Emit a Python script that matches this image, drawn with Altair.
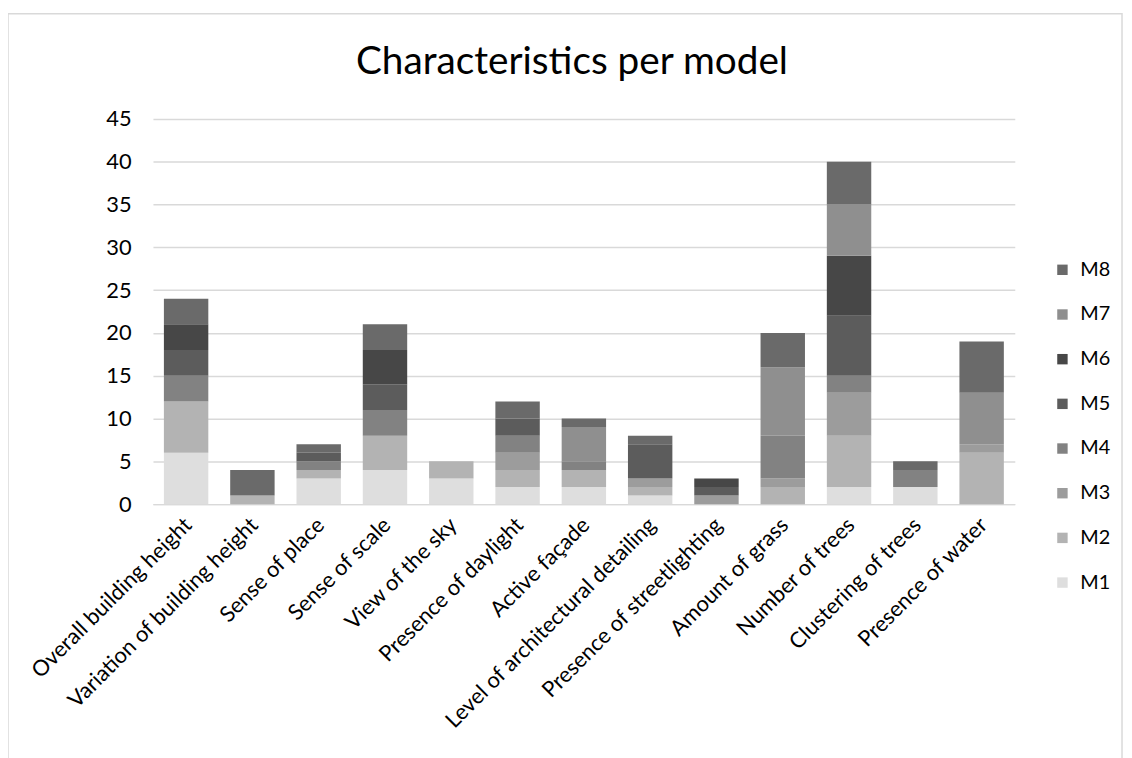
import altair as alt
import pandas as pd

categories = [
    "Overall building height", "Variation of building height", "Sense of place",
    "Sense of scale", "View of the sky", "Presence of daylight", "Active façade",
    "Level of architectural detailing", "Presence of streetlighting",
    "Amount of grass", "Number of trees", "Clustering of trees", "Presence of water",
]
models = ["M1", "M2", "M3", "M4", "M5", "M6", "M7", "M8"]

M1 = [6, 0, 3, 4, 3, 2, 2, 1, 0, 0, 2, 2, 0]
M2 = [6, 1, 1, 4, 2, 2, 2, 1, 0, 2, 6, 0, 6]
M3 = [0, 0, 0, 0, 0, 2, 0, 1, 1, 1, 5, 0, 1]
M4 = [3, 0, 1, 3, 0, 2, 1, 0, 0, 5, 2, 2, 0]
M5 = [3, 0, 1, 3, 0, 2, 0, 4, 1, 0, 7, 0, 0]
M6 = [3, 0, 0, 4, 0, 0, 0, 0, 1, 0, 7, 0, 0]
M7 = [0, 0, 0, 0, 0, 0, 4, 0, 0, 8, 6, 0, 6]
M8 = [3, 3, 1, 3, 0, 2, 1, 1, 0, 4, 5, 1, 6]
series = [M1, M2, M3, M4, M5, M6, M7, M8]

title_text = "Characteristics per model"

colors = ["#dedede", "#b3b3b3", "#9c9c9c", "#828282", "#5c5c5c", "#474747", "#8f8f8f", "#6a6a6a"]

rows = []
for mi, (m, vals) in enumerate(zip(models, series)):
    for c, v in zip(categories, vals):
        rows.append({"category": c, "model": m, "value": v, "order": mi})
df = pd.DataFrame(rows)

FONT = "Lato"

bars = alt.Chart(df).mark_bar().encode(
    x=alt.X("category:N", sort=categories, title=None,
            scale=alt.Scale(paddingInner=0.33, paddingOuter=0.165),
            axis=alt.Axis(labelAngle=-45, labelFontSize=22, labelFont=FONT, labelColor="#000000",
                          ticks=False, domainColor="#d9d9d9", domainWidth=1.5, labelPadding=10,
                          labelOffset=-5, labelLimit=400)),
    y=alt.Y("value:Q", title=None, stack="zero",
            scale=alt.Scale(domain=[0, 45], nice=False),
            axis=alt.Axis(values=list(range(0, 46, 5)), labelFontSize=22, labelFont=FONT,
                          labelColor="#000000", ticks=False, domain=False, labelPadding=22,
                          gridColor="#d9d9d9", gridWidth=1.5)),
    color=alt.Color("model:N",
                    scale=alt.Scale(domain=models[::-1], range=colors[::-1]),
                    legend=alt.Legend(title=None, orient="none", legendX=906, legendY=142,
                                      symbolType="square", symbolSize=110, symbolStrokeWidth=0,
                                      labelFontSize=20, labelFont=FONT, labelColor="#000000",
                                      rowPadding=25, labelOffset=8)),
    order=alt.Order("order:Q", sort="ascending"),
)

border = alt.Chart(pd.DataFrame({"a": [0]})).mark_rect(fill=None, stroke="#d9d9d9", strokeWidth=1.5).encode(
    x=alt.value(-146), x2=alt.value(976), y=alt.value(-106), y2=alt.value(645)
)

title = alt.Chart(pd.DataFrame({"t": [title_text]})).mark_text(
    font=FONT, fontSize=39, color="#000000", align="center", baseline="alphabetic"
).encode(x=alt.value(422), y=alt.value(-45), text="t:N")

chart = alt.layer(border, bars, title).properties(
    width=868, height=388,
    autosize=alt.AutoSizeParams(type="none"),
    padding={"left": 146, "top": 109, "right": 110, "bottom": 253},
).configure_view(stroke=None)

chart.save("out.html", embed_options={"renderer": "svg", "actions": False})
